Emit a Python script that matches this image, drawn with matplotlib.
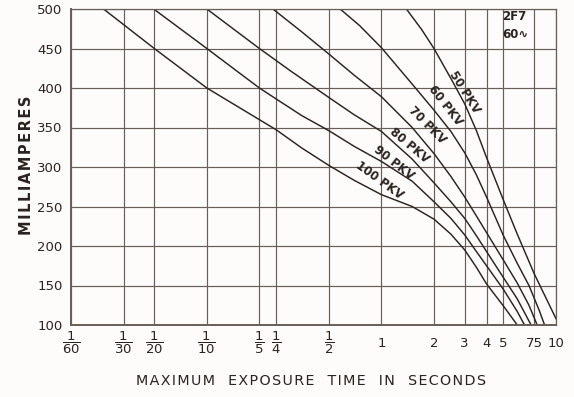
import matplotlib
matplotlib.use("Agg")
import matplotlib.pyplot as plt

# exposure time (s) tick positions and labels
x_ticks = [1/60, 1/30, 1/20, 1/10, 1/5, 1/4, 1/2, 1, 2, 3, 4, 5, 7.5, 10]
x_tick_labels = [r"$\dfrac{1}{60}$", r"$\dfrac{1}{30}$", r"$\dfrac{1}{20}$", r"$\dfrac{1}{10}$",
                 r"$\dfrac{1}{5}$", r"$\dfrac{1}{4}$", r"$\dfrac{1}{2}$",
                 "1", "2", "3", "4", "5", "75", "10"]
y_ticks = [100, 150, 200, 250, 300, 350, 400, 450, 500]

# rating curves: time (s) vs milliamperes
pkv_names = ["50 PKV", "60 PKV", "70 PKV", "80 PKV", "90 PKV", "100 PKV"]
time_50 = [1.39, 1.7, 2, 2.5, 3, 3.5, 4, 5, 6, 7.5, 10]
ma_50 = [500, 474, 450, 412, 380, 346, 312, 258, 215, 165, 108]
time_60 = [0.58, 0.75, 1, 1.5, 2, 2.5, 3, 3.5, 4, 5, 6, 7, 8, 8.6]
ma_60 = [500, 479, 451, 405, 372, 345, 318, 290, 262, 213, 178, 150, 119, 100]
time_70 = [0.239, 0.35, 0.5, 0.7, 1, 1.5, 2, 2.5, 3, 3.5, 4, 5, 6, 7, 7.8]
ma_70 = [500, 471, 443, 416, 389, 350, 317, 288, 262, 238, 217, 182, 153, 125, 100]
time_80 = [0.1, 0.2, 0.3, 0.5, 0.7, 1, 1.5, 2, 2.5, 3, 3.5, 4, 5, 6, 7.2]
ma_80 = [500, 450, 422, 388, 366, 345, 310, 280, 256, 235, 213, 193, 160, 133, 100]
time_90 = [0.0496, 0.1, 0.2, 0.25, 0.35, 0.5, 0.7, 1, 1.5, 2, 2.5, 3, 3.5, 4, 5, 6, 6.6]
ma_90 = [500, 450, 400, 386, 365, 346, 326, 307, 282, 256, 235, 214, 193, 175, 145, 117, 100]
time_100 = [0.0256, 0.05, 0.1, 0.25, 0.35, 0.5, 0.7, 1, 1.5, 2, 2.5, 3, 3.5, 4, 5, 6.0]
ma_100 = [500, 450, 400, 347, 324, 302, 283, 265, 250, 234, 215, 195, 173, 152, 124, 100]

curves = [(time_50, ma_50), (time_60, ma_60), (time_70, ma_70),
          (time_80, ma_80), (time_90, ma_90), (time_100, ma_100)]

# where each curve label sits (time, mA) and its slant
label_time = [3.0, 2.33, 1.84, 1.45, 1.17, 0.97]
label_ma = [395, 378, 353, 327, 305, 283]
label_rot = [-58, -52, -45, -40, -38, -36]

INK = "#2a2320"
GRID = "#685e57"
BG = "#fdfcfa"
HAIR = "\u200a"

plt.rcParams["font.family"] = ["DejaVu Sans"]
plt.rcParams["mathtext.fontset"] = "dejavusans"

fig = plt.figure(figsize=(5.74, 3.97), dpi=100, facecolor=BG)
ax = fig.add_axes([71/574, 1 - 325/397, (556 - 71)/574, (325 - 9)/397])
ax.set_facecolor(BG)

ax.set_xscale("log")
ax.set_xlim(1/60, 10)
ax.set_ylim(100, 500)
ax.set_xticks(x_ticks)
ax.set_xticklabels(x_tick_labels)
ax.xaxis.set_minor_locator(plt.NullLocator())
ax.set_yticks(y_ticks)
ax.grid(True, color=GRID, lw=0.85)
ax.tick_params(length=0, colors=INK, labelsize=9.5)
ax.tick_params(axis="x", pad=13)
ax.tick_params(axis="y", pad=6)
for t in ax.get_xticklabels():
    t.set_verticalalignment("center")
    if t.get_text().startswith("$"):
        t.set_fontsize(9.5)
for s in ax.spines.values():
    s.set_color(GRID)
    s.set_linewidth(0.9)
ax.spines["left"].set_linewidth(1.4)
ax.spines["bottom"].set_linewidth(1.4)

for (t, ma) in curves:
    ax.plot(t, ma, color=INK, lw=1.05, solid_joinstyle="round")

for name, lt, lm, rot in zip(pkv_names, label_time, label_ma, label_rot):
    ax.text(lt, lm, name, rotation=rot, rotation_mode="anchor", ha="center", va="center",
            fontsize=8.5, fontweight="bold", color=INK)

fig.text(502/574, 1 - 10/397, "2F7\n60\u223f", ha="left", va="top",
         fontsize=8.5, fontweight="bold", color=INK, linespacing=1.45)

xlab = "MAXIMUM  EXPOSURE  TIME  IN  SECONDS"
fig.text(311/574, 1 - 381/397, HAIR.join(xlab), ha="center", va="center",
         fontsize=10.3, color=INK)
fig.text(27/574, 1 - 165/397, HAIR.join("MILLIAMPERES"), rotation=90, ha="center", va="center",
         fontsize=10.5, fontweight="bold", color=INK)

fig.savefig("out.png", dpi=100, facecolor=BG)
